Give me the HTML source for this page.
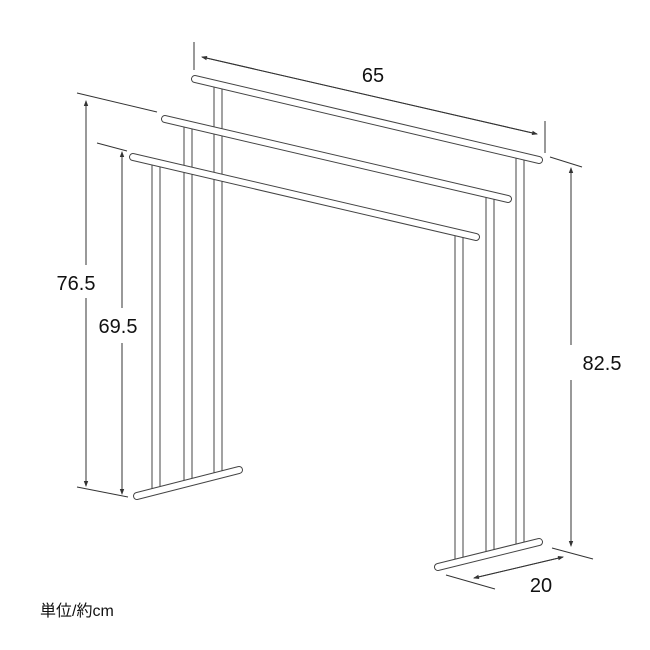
<!DOCTYPE html>
<html><head><meta charset="utf-8"><style>
body{margin:0;background:#fff}
svg{display:block}
text{font-family:"Liberation Sans","Noto Sans CJK JP",sans-serif;fill:#111}
</style></head><body>
<svg width="650" height="650" viewBox="0 0 650 650" xmlns="http://www.w3.org/2000/svg">
<defs>
<marker id="a" markerWidth="6" markerHeight="6" refX="5" refY="3" orient="auto" markerUnits="userSpaceOnUse"><path d="M0,0.8 L6,3 L0,5.2 Z" fill="#333"/></marker>
</defs>
<g fill="none">
<g stroke="#444" stroke-width="9" stroke-linecap="butt">
<line x1="218" y1="84" x2="218" y2="475"/>
<line x1="188" y1="124" x2="188" y2="483"/>
<line x1="156" y1="162" x2="156" y2="491"/>
<line x1="520" y1="156" x2="520" y2="547"/>
<line x1="490" y1="195" x2="490" y2="554"/>
<line x1="459" y1="233" x2="459" y2="562"/>
</g>
<g stroke="#fff" stroke-width="7" stroke-linecap="butt">
<line x1="218" y1="84" x2="218" y2="475"/>
<line x1="188" y1="124" x2="188" y2="483"/>
<line x1="156" y1="162" x2="156" y2="491"/>
<line x1="520" y1="156" x2="520" y2="547"/>
<line x1="490" y1="195" x2="490" y2="554"/>
<line x1="459" y1="233" x2="459" y2="562"/>
</g>
<g stroke="#444" stroke-width="8" stroke-linecap="round">
<line x1="195" y1="79" x2="539" y2="160"/>
<line x1="165" y1="119" x2="508" y2="199"/>
<line x1="133" y1="157" x2="476" y2="237"/>
<line x1="137" y1="496" x2="239" y2="470"/>
<line x1="438" y1="567" x2="539" y2="542"/>
</g>
<g stroke="#fff" stroke-width="6" stroke-linecap="round">
<line x1="195" y1="79" x2="539" y2="160"/>
<line x1="165" y1="119" x2="508" y2="199"/>
<line x1="133" y1="157" x2="476" y2="237"/>
<line x1="137" y1="496" x2="239" y2="470"/>
<line x1="438" y1="567" x2="539" y2="542"/>
</g>
</g>
<g stroke="#333" stroke-width="1" fill="none">
<line x1="194" y1="42" x2="194" y2="70"/>
<line x1="545" y1="121" x2="545" y2="153"/>
<line x1="202" y1="57" x2="537" y2="134" marker-end="url(#a)"/>
<line x1="537" y1="134" x2="202" y2="57" marker-end="url(#a)"/>
<line x1="77" y1="93" x2="157" y2="112"/>
<line x1="77" y1="487" x2="128" y2="497"/>
<line x1="86" y1="265" x2="86" y2="101" marker-end="url(#a)"/>
<line x1="86" y1="298" x2="86" y2="486" marker-end="url(#a)"/>
<line x1="97" y1="143" x2="127" y2="151"/>
<line x1="122" y1="308" x2="122" y2="152" marker-end="url(#a)"/>
<line x1="122" y1="343" x2="122" y2="494" marker-end="url(#a)"/>
<line x1="550" y1="157" x2="582" y2="167"/>
<line x1="552" y1="548" x2="593" y2="559"/>
<line x1="571" y1="345" x2="571" y2="168" marker-end="url(#a)"/>
<line x1="571" y1="380" x2="571" y2="546" marker-end="url(#a)"/>
<line x1="446" y1="575" x2="495" y2="589"/>
<line x1="474" y1="578" x2="563" y2="557" marker-end="url(#a)"/>
<line x1="563" y1="557" x2="474" y2="578" marker-end="url(#a)"/>
</g>
<text x="373" y="82" font-size="20" text-anchor="middle">65</text>
<text x="76" y="290" font-size="20" text-anchor="middle">76.5</text>
<text x="118" y="333" font-size="20" text-anchor="middle">69.5</text>
<text x="602" y="370" font-size="20" text-anchor="middle">82.5</text>
<text x="541" y="592" font-size="20" text-anchor="middle">20</text>
<text x="40" y="616" font-size="16">単位/約cm</text>
</svg>
</body></html>
